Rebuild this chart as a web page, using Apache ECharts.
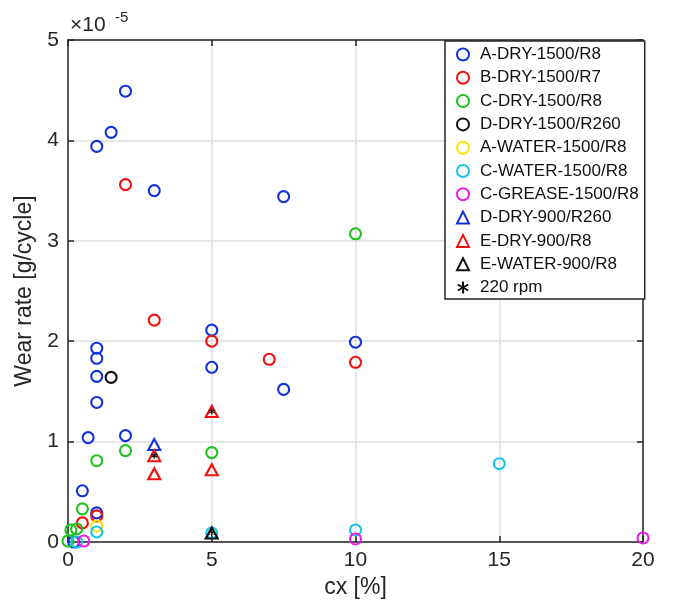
<!DOCTYPE html>
<html>
<head>
<meta charset="utf-8">
<title>Wear rate vs cx</title>
<script src="https://cdn.jsdelivr.net/npm/echarts@6/dist/echarts.min.js"></script>
<style>
  html, body { margin: 0; padding: 0; background: #fff; }
  #chart { width: 673px; height: 615px; }
</style>
</head>
<body>
<div id="chart"></div>
<script>
// Wear rate values are in units of 1e-5 g/cycle (see the exponent label on the y axis).
const aDryX = [0.2, 0.5, 0.7, 1, 1, 1, 1, 1, 1, 1.5, 2, 2, 3, 5, 5, 7.5, 7.5, 10];
const aDryY = [0.00, 0.51, 1.04, 0.29, 1.39, 1.65, 1.83, 1.93, 3.94, 4.08, 1.06, 4.49, 3.50, 1.74, 2.11, 1.52, 3.44, 1.99];

const bDryX = [0.5, 1, 2, 3, 5, 7, 10];
const bDryY = [0.19, 0.26, 3.56, 2.21, 2.00, 1.82, 1.79];

const cDryX = [0, 0.1, 0.3, 0.5, 1, 2, 5, 10];
const cDryY = [0.01, 0.12, 0.13, 0.33, 0.81, 0.91, 0.89, 3.07];

const dDry1500X = [1.5];
const dDry1500Y = [1.64];

const aWaterX = [1];
const aWaterY = [0.16];

const cWaterX = [0.3, 1, 5, 10, 15];
const cWaterY = [0.00, 0.10, 0.09, 0.12, 0.78];

const cGreaseX = [0.55, 10, 20];
const cGreaseY = [0.01, 0.03, 0.04];

const dDry900X = [3];
const dDry900Y = [0.97];

const eDry900X = [3, 3, 5, 5];
const eDry900Y = [0.86, 0.68, 1.30, 0.72];

const eWater900X = [5];
const eWater900Y = [0.09];

const rpm220X = [3, 5, 5];
const rpm220Y = [0.86, 1.30, 0.09];

const seriesNames = [
  'A-DRY-1500/R8', 'B-DRY-1500/R7', 'C-DRY-1500/R8', 'D-DRY-1500/R260',
  'A-WATER-1500/R8', 'C-WATER-1500/R8', 'C-GREASE-1500/R8',
  'D-DRY-900/R260', 'E-DRY-900/R8', 'E-WATER-900/R8', '220 rpm'
];

const xTicks = { min: 0, max: 20, step: 5 };
const yTicks = { min: 0, max: 5, step: 1 };

const FONT = '"Liberation Sans", Arial, Helvetica, sans-serif';
const AXIS_COLOR = '#262626';
const GRID_COLOR = '#dedede';

const BLUE = '#1233dc';
const RED = '#f01010';
const GREEN = '#1cc41c';
const BLACK = '#111111';
const YELLOW = '#ffe600';
const CYAN = '#16c6ea';
const MAGENTA = '#e81ee0';

const asterisk = 'path://M0,-1L0,1M-0.866,-0.5L0.866,0.5M-0.866,0.5L0.866,-0.5';

function zip(xs, ys) {
  return xs.map((x, i) => [x, ys[i]]);
}

function scatter(name, xs, ys, symbol, color, size, width) {
  return {
    name: name,
    type: 'scatter',
    data: zip(xs, ys),
    symbol: symbol,
    symbolSize: size,
    itemStyle: { color: 'rgba(0,0,0,0)', borderColor: color, borderWidth: width, opacity: 1 },
    emphasis: { disabled: true },
    z: 3
  };
}

const CIRCLE = 11;
const TRI = [12, 11];
const STROKE = 2.1;

const series = [
  scatter(seriesNames[0], aDryX, aDryY, 'circle', BLUE, CIRCLE, STROKE),
  scatter(seriesNames[1], bDryX, bDryY, 'circle', RED, CIRCLE, STROKE),
  scatter(seriesNames[2], cDryX, cDryY, 'circle', GREEN, CIRCLE, STROKE),
  scatter(seriesNames[3], dDry1500X, dDry1500Y, 'circle', BLACK, CIRCLE, STROKE),
  scatter(seriesNames[4], aWaterX, aWaterY, 'circle', YELLOW, CIRCLE, STROKE),
  scatter(seriesNames[5], cWaterX, cWaterY, 'circle', CYAN, CIRCLE, STROKE),
  scatter(seriesNames[6], cGreaseX, cGreaseY, 'circle', MAGENTA, CIRCLE, STROKE),
  scatter(seriesNames[7], dDry900X, dDry900Y, 'triangle', BLUE, TRI, STROKE),
  scatter(seriesNames[8], eDry900X, eDry900Y, 'triangle', RED, TRI, STROKE),
  scatter(seriesNames[9], eWater900X, eWater900Y, 'triangle', BLACK, TRI, STROKE),
  scatter(seriesNames[10], rpm220X, rpm220Y, asterisk, BLACK, 6, 1.3)
];

const tickLine = { color: AXIS_COLOR, width: 1.5 };

function valueAxis(range, pos, withLabels, extra) {
  return Object.assign({
    type: 'value',
    position: pos,
    min: range.min,
    max: range.max,
    interval: range.step,
    axisLine: { show: true, onZero: false, lineStyle: tickLine },
    axisTick: { show: true, inside: true, length: 6, lineStyle: tickLine },
    axisLabel: {
      show: withLabels,
      color: AXIS_COLOR,
      fontSize: 21,
      fontFamily: FONT,
      showMinLabel: true,
      showMaxLabel: true
    },
    splitLine: { show: withLabels, lineStyle: { color: GRID_COLOR, width: 1.5 } }
  }, extra || {});
}

const chart = echarts.init(document.getElementById('chart'), null, { renderer: 'canvas' });

chart.setOption({
  animation: false,
  backgroundColor: '#ffffff',
  grid: { left: 68, top: 40, right: 30, bottom: 73, containLabel: false },
  xAxis: [
    valueAxis(xTicks, 'bottom', true, {
      name: 'cx [%]',
      nameLocation: 'middle',
      nameGap: 32,
      nameTextStyle: { fontSize: 23, fontFamily: FONT, color: AXIS_COLOR }
    }),
    valueAxis(xTicks, 'top', false)
  ],
  yAxis: [
    valueAxis(yTicks, 'left', true, {
      name: 'Wear rate [g/cycle]',
      nameLocation: 'middle',
      nameGap: 21,
      nameRotate: 90,
      nameTextStyle: { fontSize: 23, fontFamily: FONT, color: AXIS_COLOR },
      axisLabel: { color: AXIS_COLOR, fontSize: 21, fontFamily: FONT, margin: 9, showMinLabel: true, showMaxLabel: true }
    }),
    valueAxis(yTicks, 'right', false)
  ],
  legend: {
    orient: 'vertical',
    left: 445,
    top: 41,
    padding: [5, 6, 3, 11],
    itemWidth: 12,
    itemHeight: 12,
    itemGap: 6.3,
    symbolKeepAspect: true,
    selectedMode: false,
    backgroundColor: '#ffffff',
    borderColor: AXIS_COLOR,
    borderWidth: 1.5,
    textStyle: { fontSize: 17, lineHeight: 17, fontFamily: FONT, color: '#111', padding: [0, 0, 0, 6] },
    data: seriesNames
  },
  graphic: [
    {
      type: 'text',
      left: 70,
      top: 15,
      style: { text: '\u00d710', fontSize: 21, fontFamily: FONT, fill: AXIS_COLOR }
    },
    {
      type: 'text',
      left: 115,
      top: 10,
      style: { text: '-5', fontSize: 15, fontFamily: FONT, fill: AXIS_COLOR }
    }
  ],
  series: series
});
</script>
</body>
</html>
